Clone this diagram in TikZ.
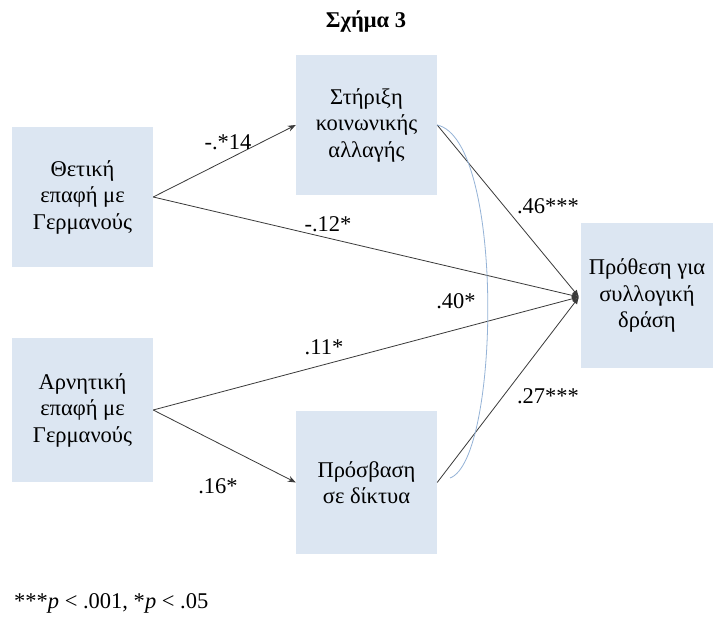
\documentclass[tikz,border=0pt]{standalone}
\usepackage{fontspec}
\setmainfont{Liberation Serif}[Ligatures=TeX]
\usetikzlibrary{arrows.meta}
\definecolor{boxblue}{HTML}{DCE6F2}
\definecolor{linegray}{HTML}{3A3A3A}
\definecolor{corrblue}{HTML}{95B3D7}
\begin{document}
\begin{tikzpicture}[x=1pt,y=-1pt,
  box/.style={fill=boxblue, draw=none, align=center, inner sep=0pt,
    font=\fontsize{22.5}{26.5}\selectfont},
  conn/.style={draw=linegray, line width=0.8pt},
  headarrow/.style={-{Stealth[length=8pt,width=6pt]}},
  dotarrow/.style={-{Latex[length=7pt,width=6pt]}},
  corr/.style={draw=corrblue, line width=0.8pt},
  lbl/.style={font=\fontsize{22.5}{26}\selectfont, inner sep=0pt}
]
\useasboundingbox (0,0) rectangle (713,628);
\fill[white] (0,0) rectangle (713,628);

\node[font=\bfseries\fontsize{22.5}{26}\selectfont] (title) at (366,22) {Σχήμα 3};

\node[box, minimum width=141pt, minimum height=140pt] (thet) at (82.5,197) {Θετική\\επαφή με\\Γερμανούς};
\node[box, minimum width=141pt, minimum height=144pt] (arn) at (82.5,410) {Αρνητική\\επαφή με\\Γερμανούς};
\node[box, minimum width=141pt, minimum height=140pt] (stir) at (366.5,125) {Στήριξη\\κοινωνικής\\αλλαγής};
\node[box, minimum width=141pt, minimum height=143pt] (pros) at (366.5,482.5) {Πρόσβαση\\σε δίκτυα};
\node[box, minimum width=132pt, minimum height=145pt] (proth) at (647,295.5) {Πρόθεση για\\συλλογική\\δράση};

\coordinate (tgt) at (579,297);
\coordinate (cend) at (450,478);

\draw[conn, headarrow] (thet.east) -- (stir.west);
\draw[conn, headarrow] (arn.east) -- (pros.west);
\draw[conn, dotarrow] (thet.east) -- (tgt);
\draw[conn, dotarrow] (arn.east) -- (tgt);
\draw[conn, dotarrow] (stir.east) -- (tgt);
\draw[conn, dotarrow] (pros.east) -- (tgt);

\draw[corr] (stir.east) .. controls (505,140) and (500,460) .. (cend);

\node[lbl] (l14) at (228,142) {-.*14};
\node[lbl] (l12) at (328,224) {-.12*};
\node[lbl] (l46) at (548,206) {.46***};
\node[lbl] (l40) at (456,301) {.40*};
\node[lbl] (l11) at (324,347) {.11*};
\node[lbl] (l27) at (548,396) {.27***};
\node[lbl] (l16) at (218,486) {.16*};

\node[anchor=west, font=\fontsize{22.5}{26}\selectfont, inner sep=0pt] (note) at (14,603) {***\textit{p} < .001, *\textit{p} < .05};
\end{tikzpicture}
\end{document}
